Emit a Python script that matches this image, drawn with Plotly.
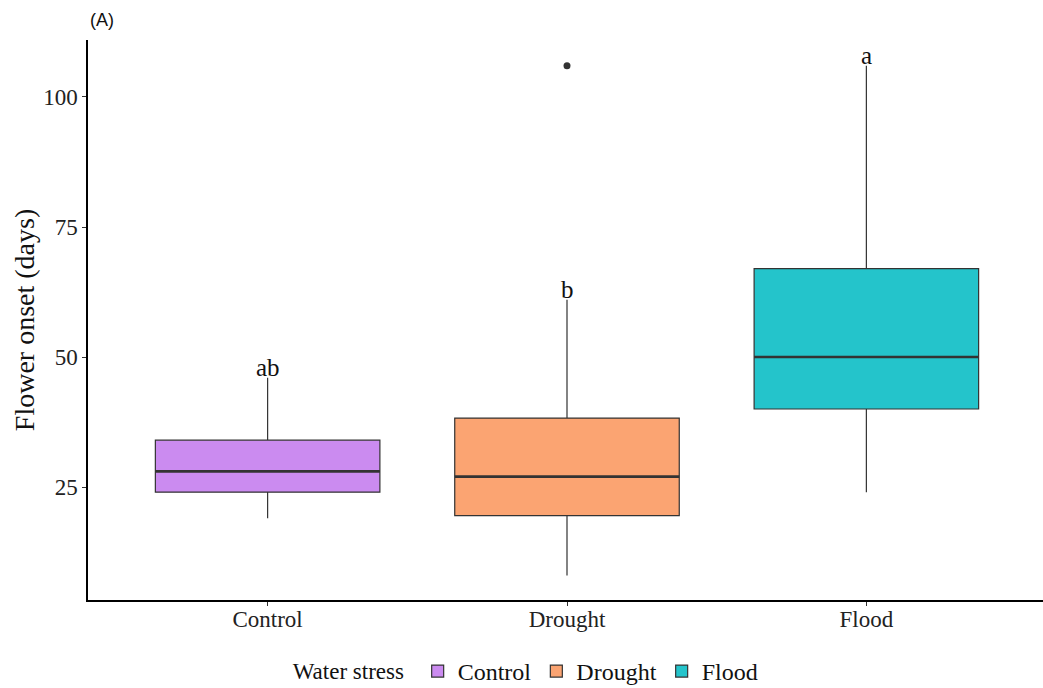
import plotly.graph_objects as go

categories = ["Control", "Drought", "Flood"]
lower_whisker = [19, 8, 24]
q1 = [24, 19.5, 40]
median = [28, 27, 50]
q3 = [34, 38.25, 67]
upper_whisker = [46, 61, 106]
outlier_group = ["Drought"]
outlier_value = [106]
letters = ["ab", "b", "a"]
colors = ["#CB8BF0", "#FBA472", "#24C4CB"]

BOX_W = 0.75
serif = "Liberation Serif"

fig = go.Figure()
for i, cat in enumerate(categories):
    fig.add_trace(go.Box(
        x=[i], q1=[q1[i]], median=[median[i]], q3=[q3[i]],
        lowerfence=[lower_whisker[i]], upperfence=[upper_whisker[i]],
        name=cat, width=BOX_W, whiskerwidth=0,
        fillcolor=colors[i], line=dict(color="#333333", width=1.2),
        boxpoints=False, showlegend=True,
    ))
    # thicker median line like ggplot
    fig.add_trace(go.Scatter(
        x=[i - BOX_W / 2, i + BOX_W / 2], y=[median[i], median[i]],
        mode="lines", line=dict(color="#333333", width=2.6),
        showlegend=False, hoverinfo="skip",
    ))
    fig.add_annotation(
        x=i, y=upper_whisker[i], text=letters[i], showarrow=False,
        yanchor="bottom", yshift=-5, font=dict(family=serif, size=25, color="#111"),
    )

for g, v in zip(outlier_group, outlier_value):
    fig.add_trace(go.Scatter(
        x=[categories.index(g)], y=[v], mode="markers",
        marker=dict(color="#333333", size=7), showlegend=False,
    ))

fig.add_annotation(
    xref="paper", yref="paper", x=0, y=1, xshift=0, yshift=8,
    xanchor="left", yanchor="bottom", text="(A)", showarrow=False,
    font=dict(family="Liberation Sans", size=18, color="#111"),
)

fig.update_layout(
    width=1043, height=688,
    margin=dict(l=88, r=0, t=40, b=88),
    paper_bgcolor="white", plot_bgcolor="white",
    font=dict(family=serif, color="#111"),
    xaxis=dict(
        range=[-0.6, 2.59], tickmode="array", tickvals=list(range(len(categories))),
        ticktext=categories, showline=True, linecolor="black", linewidth=1.5,
        ticks="outside", ticklen=4, tickcolor="#333", showgrid=False, zeroline=False,
        tickfont=dict(family=serif, size=23, color="#222"),
        ticklabelstandoff=-6,
    ),
    yaxis=dict(
        range=[3.27, 110.96], tickvals=[25, 50, 75, 100],
        showline=True, linecolor="black", linewidth=1.5,
        ticks="outside", ticklen=4, tickcolor="#333", showgrid=False, zeroline=False,
        tickfont=dict(family=serif, size=23, color="#222"),
        title=dict(text="Flower onset (days)", font=dict(family=serif, size=28, color="#111"), standoff=0),
    ),
    legend=dict(
        orientation="h", x=0.505, xanchor="center", xref="container",
        y=0.024, yanchor="middle", yref="container",
        title=dict(text="Water stress ", font=dict(family=serif, size=23, color="#111")),
        font=dict(family=serif, size=24, color="#111"),
        itemwidth=30,
    ),
)

fig.write_html("out.html")
